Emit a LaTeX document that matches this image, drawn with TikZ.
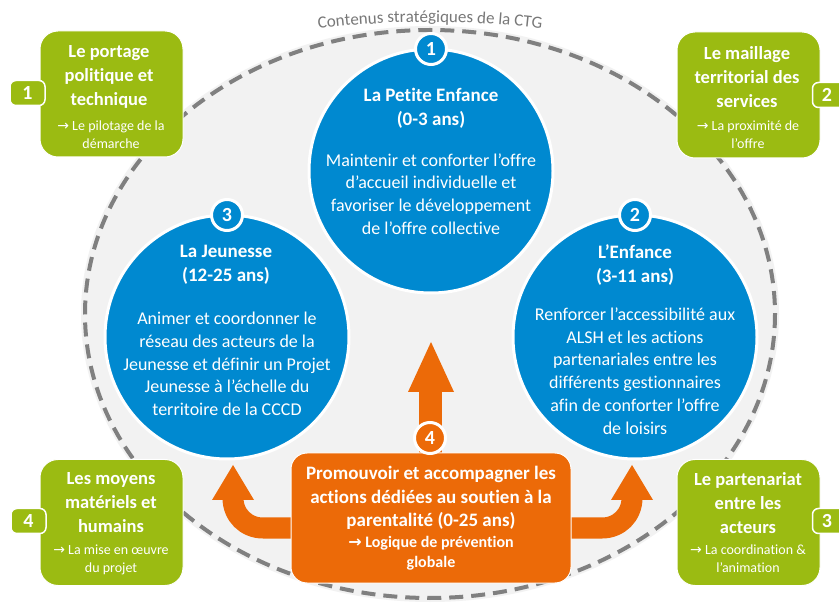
\documentclass[tikz,border=0pt]{standalone}
\usepackage{fontspec}
\setmainfont{Carlito}[Ligatures=NoCommon]
\newfontfamily\arr{DejaVu Sans}
\usetikzlibrary{decorations.text}
\definecolor{cblue}{RGB}{0,137,208}
\definecolor{cgreen}{RGB}{155,187,18}
\definecolor{corange}{RGB}{236,106,8}
\definecolor{cfill}{RGB}{242,242,242}
\definecolor{cdash}{RGB}{128,128,128}
\definecolor{ctitlegray}{RGB}{120,120,120}
\newcommand{\rarr}{{\arr →}}
\begin{document}
\begin{tikzpicture}[x=1pt,y=-1pt,
  bcirc/.style={circle, fill=cblue, draw=white, line width=3pt, minimum size=244pt, inner sep=0pt},
  gbox/.style={rectangle, rounded corners=18pt, fill=cgreen, draw=white, line width=1pt, minimum width=143pt, minimum height=126pt},
  obox/.style={rectangle, rounded corners=16pt, fill=corange, draw=white, line width=1pt, minimum width=280pt, minimum height=130pt},
  tabbox/.style={rectangle, rounded corners=6pt, fill=cgreen, draw=white, line width=1.5pt, minimum width=35pt, minimum height=25pt, text=white, font=\fontsize{20}{24}\selectfont\bfseries, inner sep=0pt},
  badge/.style={circle, draw=white, line width=3pt, minimum size=31pt, inner sep=0pt, text=white, font=\fontsize{20}{24}\selectfont\bfseries},
  gtitle/.style={text=white, align=center, font=\fontsize{18.5}{24}\selectfont\bfseries, inner sep=0pt},
  gsub/.style={text=white, align=center, font=\fontsize{14}{18}\selectfont, inner sep=0pt},
  ctitle/.style={text=white, align=center, font=\fontsize{19}{24}\selectfont\bfseries, inner sep=0pt},
  cbody/.style={text=white, align=center, font=\fontsize{18}{22.7}\selectfont, inner sep=0pt},
  otitle/.style={text=white, align=center, font=\fontsize{19}{23.5}\selectfont\bfseries, inner sep=0pt},
  osub/.style={text=white, align=center, font=\fontsize{16}{20}\selectfont\bfseries, inner sep=0pt},
]
\useasboundingbox[fill=white] (0,0) rectangle (839,612);
% big ellipse
\path[fill=cfill] (430,314) ellipse [x radius=349, y radius=288];
\draw[cdash, line width=4pt, dash pattern=on 14pt off 8pt] (430,314) ellipse [x radius=345, y radius=284];
% circles
\node[bcirc] (c1) at (431,171) {};
\node[bcirc] (c3) at (227,337) {};
\node[bcirc] (c2) at (635,337) {};
% arrows
\coordinate (uptip) at (431,342);
\coordinate (ltip) at (233,465);
\coordinate (rtip) at (632,465);
\fill[corange] (419,455) rectangle (442,390);
\fill[corange] (408,392) -- (uptip) -- (454,392) -- cycle;
\draw[corange, line width=21pt] (296,528) -- (263,528) .. controls (246,528) and (233,515) .. (233,498);
\fill[corange] (212,500) -- (ltip) -- (254,500) -- cycle;
\draw[corange, line width=21pt] (566,528) -- (602,528) .. controls (619,528) and (632,515) .. (632,498);
\fill[corange] (611,500) -- (rtip) -- (653,500) -- cycle;
% orange box
\node[obox] (ob) at (431,518) {};
% badges
\node[badge, fill=cblue] (b1) at (431,49) {1};
\node[badge, fill=cblue] (b2) at (635,215) {2};
\node[badge, fill=cblue] (b3) at (227,215) {3};
\node[badge, fill=corange] (b4) at (430,438) {4};
% circle texts
\node[ctitle] (t1) at (431,108) {La Petite Enfance\\(0-3 ans)};
\node[cbody] (d1) at (431,194) {Maintenir et conforter l’offre\\d’accueil individuelle et\\favoriser le développement\\de l’offre collective};
\node[ctitle] (t3) at (226,265) {La Jeunesse\\(12-25 ans)};
\node[cbody] (d3) at (227,364) {Animer et coordonner le\\réseau des acteurs de la\\Jeunesse et définir un Projet\\Jeunesse à l’échelle du\\territoire de la CCCD};
\node[ctitle] (t2) at (635,265) {L’Enfance\\(3-11 ans)};
\node[cbody] (d2) at (635,371) {Renforcer l’accessibilité aux\\ALSH et les actions\\partenariales entre les\\différents gestionnaires\\afin de conforter l’offre\\de loisirs};
% orange text
\node[otitle] (ot) at (431,498) {Promouvoir et accompagner les\\actions dédiées au soutien à la\\parentalité (0-25 ans)};
\node[osub] (os) at (431,553) {\rarr{} Logique de prévention\\globale};
% green boxes
\node[gbox] (g1) at (111.5,94) {};
\node[gbox] (g2) at (748.5,95) {};
\node[gbox] (g4) at (111.5,522.5) {};
\node[gbox] (g3) at (748.5,522.5) {};
\node[tabbox] (n1) at (27.5,93) {1};
\node[tabbox] (n2) at (830,95) {\hspace*{-6pt}2};
\node[tabbox] (n4) at (28.5,521) {4};
\node[tabbox] (n3) at (830,521) {\hspace*{-6pt}3};
\node[gtitle] (gt1) at (109,77) {Le portage\\politique et\\technique};
\node[gsub] (gs1) at (111,134.5) {\rarr{} Le pilotage de la\\démarche};
\node[gtitle] (gt2) at (747,77) {Le maillage\\territorial des\\services};
\node[gsub] (gs2) at (748,134.5) {\rarr{} La proximité de\\l’offre};
\node[gtitle] (gt4) at (111,503) {Les moyens\\matériels et\\humains};
\node[gsub] (gs4) at (111,560) {\rarr{} La mise en œuvre\\du projet};
\node[gtitle] (gt3) at (748,503) {Le partenariat\\entre les\\acteurs};
\node[gsub] (gs3) at (748,559) {\rarr{} La coordination \&\\l’animation};
% title along arc
\path[decorate, decoration={text along path, text align=center, text={|\fontsize{17}{20}\selectfont\color{ctitlegray}|Contenus stratégiques de la CTG}}] (300,31) .. controls (390,19) and (470,19) .. (560,31);
\end{tikzpicture}
\end{document}
